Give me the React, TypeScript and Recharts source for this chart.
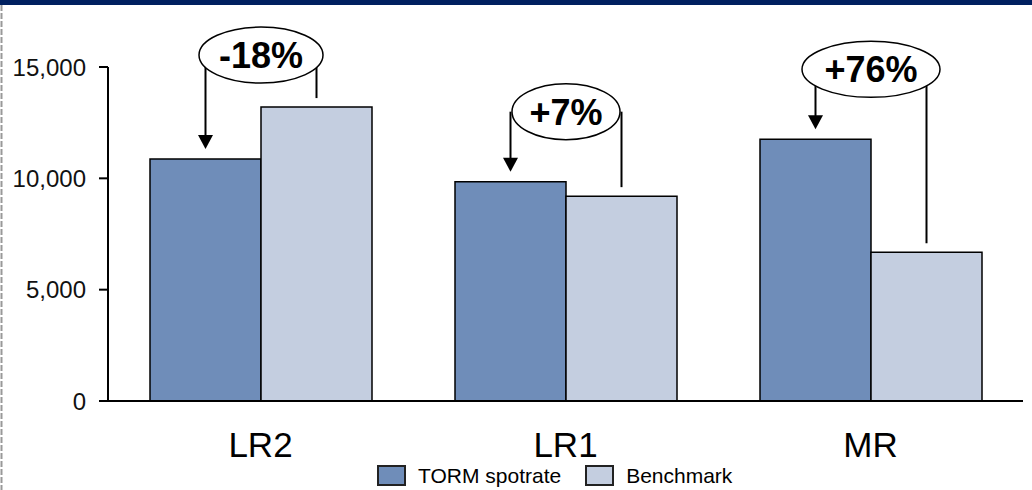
import { BarChart, Bar, XAxis, YAxis, Legend, LabelList } from 'recharts'

const vesselClasses = ['LR2', 'LR1', 'MR']
const seriesNames = ['TORM spotrate', 'Benchmark']
const tormSpot = [10870, 9850, 11750]
const benchmark = [13200, 9200, 6680]
const yTicks = [0, 5000, 10000, 15000]

const rows = vesselClasses.map((name, i) => ({ name, torm: tormSpot[i], bench: benchmark[i] }))

// callout ellipse half-widths, and how high the ellipse centre sits above the taller bar
const calloutRx = [62, 54, 69]
const calloutLift = [52, 70, 70]

const FONT = '"Liberation Sans", Arial, sans-serif'
const TORM_FILL = '#6F8DB9'
const BENCH_FILL = '#C4CEE0'

const fmt = (v: number) => v.toLocaleString('en-US')

// drawn from the Benchmark bar's label: arrow into the TORM bar, line down to the benchmark bar
function Callout(props: any) {
  const vb = props.viewBox && props.viewBox.width != null ? props.viewBox : props
  let index = props.index
  if (index == null) index = benchmark.indexOf(Number(props.value))
  const x = Number(vb.x)
  const y = Number(vb.y)
  const w = Number(vb.width)
  const h = Number(vb.height)
  const bench = benchmark[index]
  const torm = tormSpot[index]
  const base = y + h
  const tormTop = base - (torm * h) / bench
  const tormX = x - w / 2
  const benchX = x + w / 2
  const cx = x
  const cy = Math.min(y, tormTop) - calloutLift[index]
  const pct = Math.round((torm / bench - 1) * 100)
  const label = `${pct > 0 ? '+' : ''}${pct}%`
  const tip = tormTop - 10
  return (
    <g>
      <line x1={tormX} y1={cy} x2={tormX} y2={tip - 13} stroke="#000" strokeWidth={2} />
      <polygon points={`${tormX - 7.5},${tip - 14} ${tormX + 7.5},${tip - 14} ${tormX},${tip}`} fill="#000" />
      <line x1={benchX} y1={cy} x2={benchX} y2={y - 9} stroke="#000" strokeWidth={2} />
      <ellipse cx={cx} cy={cy} rx={calloutRx[index]} ry={28} fill="#fff" stroke="#000" strokeWidth={1.5} />
      <text x={cx} y={cy + 13} textAnchor="middle" fontFamily={FONT} fontSize={36} fontWeight="bold" fill="#000">
        {label}
      </text>
    </g>
  )
}

function LegendBoxes({ payload }: any) {
  const items = [...(payload || [])].sort(
    (a: any, b: any) => seriesNames.indexOf(a.value) - seriesNames.indexOf(b.value)
  )
  return (
    <div style={{ display: 'flex', alignItems: 'center', height: 29, fontFamily: FONT, fontSize: 21, color: '#000' }}>
      {items.map((p: any, i: number) => (
        <div key={p.value} style={{ display: 'flex', alignItems: 'center', marginLeft: i ? 24 : 0 }}>
          <span
            style={{
              display: 'inline-block',
              width: 29,
              height: 21,
              boxSizing: 'border-box',
              background: p.color,
              border: '2px solid #222',
              marginRight: 12,
            }}
          />
          <span style={{ whiteSpace: 'nowrap' }}>{p.value}</span>
        </div>
      ))}
    </div>
  )
}

export default function App() {
  return (
    <div style={{ position: 'absolute', left: 0, top: 0, width: 1032, height: 490, background: '#fff' }}>
      <BarChart
        width={1032}
        height={490}
        data={rows}
        margin={{ top: 67, right: 9, left: 8, bottom: 0 }}
        barGap={0}
        barCategoryGap={42}
      >
        <XAxis
          dataKey="name"
          height={60}
          axisLine={{ stroke: '#000', strokeWidth: 2 }}
          tickLine={false}
          tickSize={0}
          tickMargin={31}
          tick={{ fontFamily: FONT, fontSize: 35, fill: '#000' }}
        />
        <YAxis
          width={100}
          domain={[0, 15000]}
          ticks={yTicks}
          tickFormatter={fmt}
          axisLine={{ stroke: '#000', strokeWidth: 2 }}
          tickLine={{ stroke: '#000', strokeWidth: 2 }}
          tickSize={9}
          tickMargin={13}
          tick={{ fontFamily: FONT, fontSize: 24, fill: '#111' }}
        />
        <Legend
          verticalAlign="bottom"
          content={<LegendBoxes />}
          wrapperStyle={{ left: 377, width: 420, height: 29 }}
        />
        <Bar dataKey="torm" name={seriesNames[0]} fill={TORM_FILL} stroke="#000" strokeWidth={1.5} isAnimationActive={false} />
        <Bar dataKey="bench" name={seriesNames[1]} fill={BENCH_FILL} stroke="#000" strokeWidth={1.5} isAnimationActive={false}>
          <LabelList dataKey="bench" content={(p: any) => <Callout {...p} />} />
        </Bar>
      </BarChart>
      <div style={{ position: 'absolute', left: 0, top: 0, width: 1032, height: 5, background: '#002060' }} />
      <svg style={{ position: 'absolute', left: 0, top: 5 }} width={4} height={485}>
        <line x1={1.5} y1={0} x2={1.5} y2={485} stroke="#999" strokeWidth={2} strokeDasharray="6 2" />
      </svg>
    </div>
  )
}
